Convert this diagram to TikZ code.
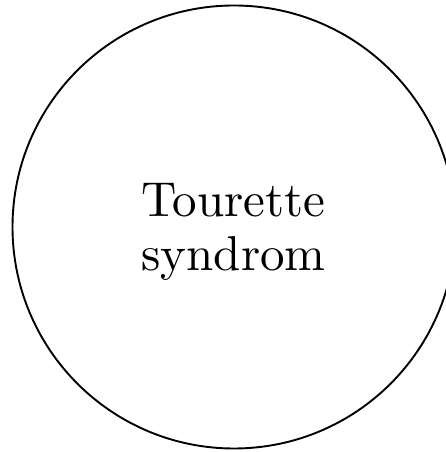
\documentclass[tikz,border=0pt]{standalone}
\begin{document}
\begin{tikzpicture}[x=1pt,y=1pt,
  bubble/.style={circle,draw,line width=1.9pt,minimum size=443pt,inner sep=0pt},
  bigtext/.style={inner sep=0pt,align=center}]
\useasboundingbox (0,0) rectangle (446,452);
\node[bubble] (ts) at (234,225) {};
\node[bigtext,yshift=-6pt,xshift=-0.5pt] (lbl) at (ts.center) {\scalebox{4.9}{\fontsize{10}{11}\selectfont\begin{tabular}{@{}c@{}}Tourette\\syndrom\end{tabular}}};
\end{tikzpicture}
\end{document}
